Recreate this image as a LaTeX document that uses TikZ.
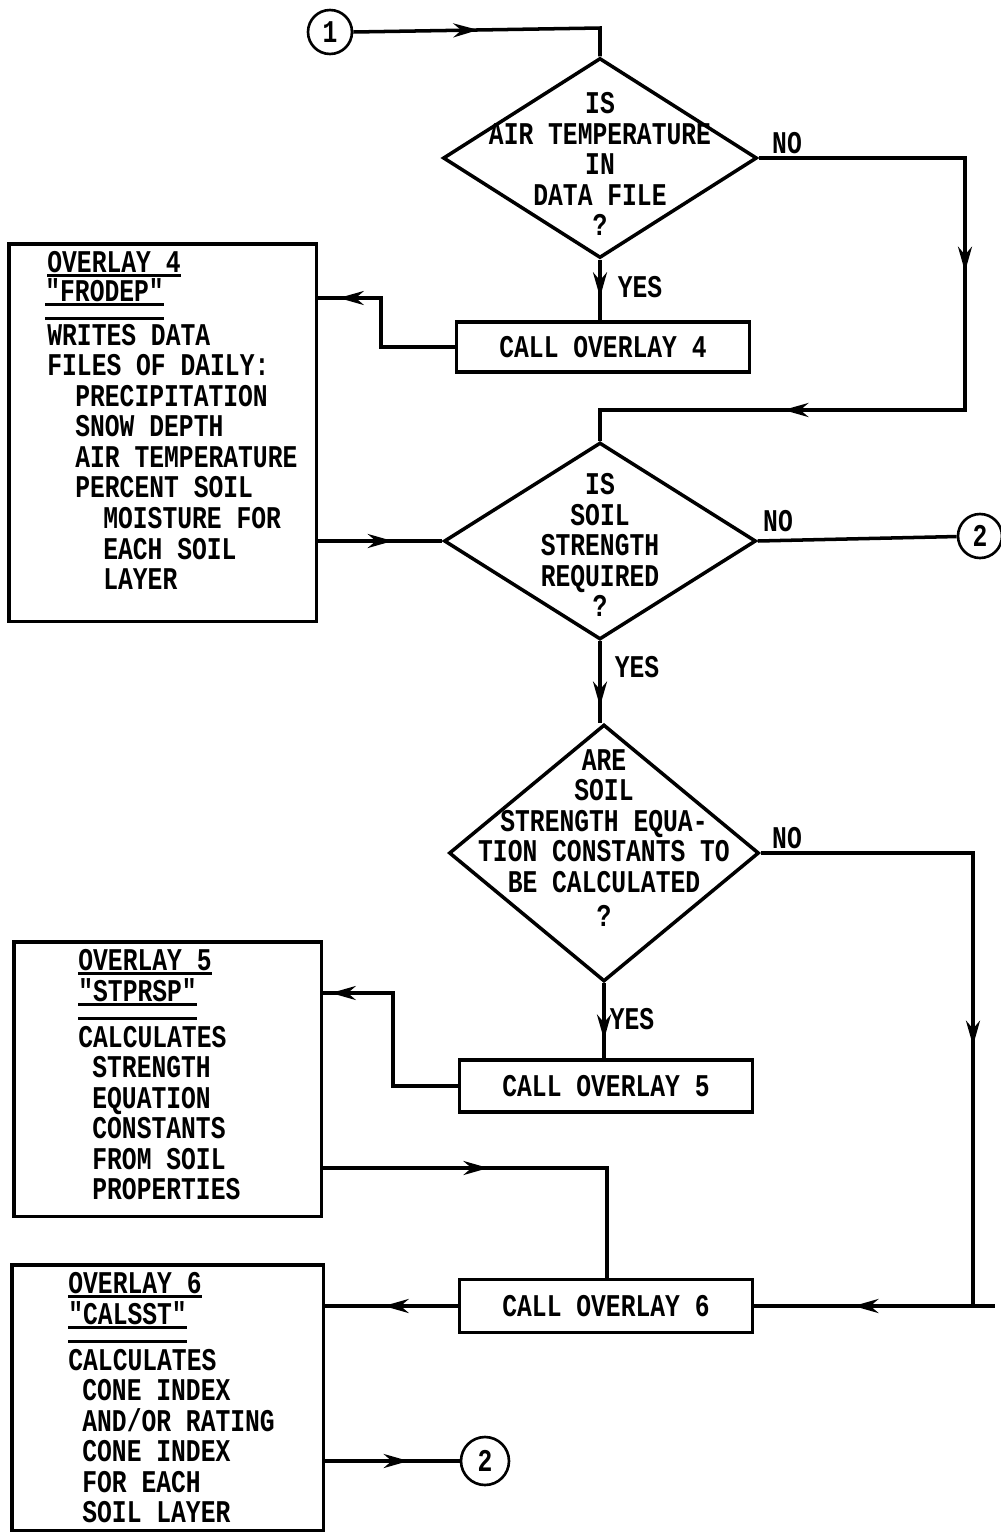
\documentclass[tikz,border=0pt]{standalone}
\usepackage{fontspec}
\newfontfamily\typer{Liberation Mono}[FakeStretch=0.78]
\newcommand\tcfont{\typer\bfseries\fontsize{18pt}{17.4pt}\selectfont}
\usepackage{tikz}
\usetikzlibrary{shapes.geometric,arrows.meta,decorations.markings}

\begin{document}
\begin{tikzpicture}[x=0.02cm,y=-0.02cm,
    flowtip/.tip={Stealth[length=5mm,width=2.8mm]},
    flow/.style={line width=2pt},
    rule/.style={line width=1.5pt},
    arr/.style={postaction={decorate},decoration={markings,mark=at position #1 with {\arrow{flowtip}}}},
    arrtwo/.style 2 args={postaction={decorate},decoration={markings,
        mark=at position #1 with {\arrow{flowtip}},mark=at position #2 with {\arrow{flowtip}}}},
    dia/.style={diamond,draw,line width=2pt,inner sep=0pt},
    dlab/.style={align=center,font=\tcfont,inner sep=0pt},
    callbox/.style={rectangle,draw,line width=2pt,minimum width=5.86cm,minimum height=1cm,font=\tcfont},
    panel/.style={rectangle,draw,line width=2pt,anchor=north west},
    head/.style={font=\tcfont,inner sep=0pt,anchor=west},
    body/.style={font=\tcfont,inner sep=0pt,align=left,anchor=north west},
    lab/.style={font=\tcfont,inner sep=0pt},
    conn/.style={circle,draw,line width=1.5pt,inner sep=0pt,font=\tcfont}]

\useasboundingbox (0,0) rectangle (1001,1532);

% Connecteurs
\node[conn,minimum size=0.88cm] (c1) at (330,32) {1};
\node[conn,minimum size=0.88cm] (c2a) at (980,536) {2};
\node[conn,minimum size=0.96cm] (c2b) at (485,1461) {2};

% Decisions
\node[dia,minimum width=6.28cm,minimum height=4cm] (d1) at (600,158) {};
\node[dlab] (d1t) at (600,164) {IS\\AIR TEMPERATURE\\IN\\DATA FILE\\?};
\node[dia,minimum width=6.24cm,minimum height=3.94cm] (d2) at (600,541) {};
\node[dlab] (d2t) at (600,545) {IS\\SOIL\\STRENGTH\\REQUIRED\\?};
\node[dia,minimum width=6.2cm,minimum height=5.14cm] (d3) at (604,853) {};
\node[dlab] (d3t) at (604,838) {ARE\\SOIL\\STRENGTH EQUA-\\TION CONSTANTS TO\\BE CALCULATED\\[2pt]?};

% Appels
\node[callbox] (cov4) at (603,347) {CALL OVERLAY 4};
\node[callbox,minimum height=1.04cm] (cov5) at (606,1086) {CALL OVERLAY 5};
\node[callbox,minimum height=1.06cm] (cov6) at (606,1306) {CALL OVERLAY 6};

% Overlays
\node[panel,minimum width=6.16cm,minimum height=7.56cm] (ov4) at (7,242) {};
\node[head] (ov4a) at (47,262) {OVERLAY 4};
\node[head] (ov4b) at (45,290) {"FRODEP"};
\node[body] (ov4c) at (47,323.5) {WRITES DATA\\FILES OF DAILY:\\
  \hspace*{0.56cm}PRECIPITATION\\\hspace*{0.56cm}SNOW DEPTH\\
  \hspace*{0.56cm}AIR TEMPERATURE\\\hspace*{0.56cm}PERCENT SOIL\\
  \hspace*{1.12cm}MOISTURE FOR\\\hspace*{1.12cm}EACH SOIL\\\hspace*{1.12cm}LAYER};

\node[panel,minimum width=6.16cm,minimum height=5.5cm] (ov5) at (12,940) {};
\node[head] (ov5a) at (78,960) {OVERLAY 5};
\node[head] (ov5b) at (78,990) {"STPRSP"};
\node[body] (ov5c) at (78,1025.5) {CALCULATES\\\hspace*{0.28cm}STRENGTH\\
  \hspace*{0.28cm}EQUATION\\\hspace*{0.28cm}CONSTANTS\\
  \hspace*{0.28cm}FROM SOIL\\\hspace*{0.28cm}PROPERTIES};

\node[panel,minimum width=6.24cm,minimum height=5.32cm] (ov6) at (10,1263) {};
\node[head] (ov6a) at (68,1283) {OVERLAY 6};
\node[head] (ov6b) at (68,1313) {"CALSST"};
\node[body] (ov6c) at (68,1348.5) {CALCULATES\\\hspace*{0.28cm}CONE INDEX\\
  \hspace*{0.28cm}AND/OR RATING\\\hspace*{0.28cm}CONE INDEX\\
  \hspace*{0.28cm}FOR EACH\\\hspace*{0.28cm}SOIL LAYER};

% Soulignements
\foreach \n in {ov4a,ov4b,ov5a,ov5b,ov6a,ov6b}
  \draw[rule] ([yshift=-0.05cm]\n.south west) -- ([yshift=-0.05cm]\n.south east);
\foreach \n in {ov4b,ov5b,ov6b}
  \draw[rule] ([yshift=-0.33cm]\n.south west) -- ([yshift=-0.33cm]\n.south east);

% Etiquettes
\node[lab] (no1) at (787,143) {NO};
\node[lab] (yes1) at (640,287) {YES};
\node[lab] (no2) at (778,521) {NO};
\node[lab] (yes2) at (637,667) {YES};
\node[lab] (no3) at (787,838) {NO};
\node[lab] (yes3) at (632,1019) {YES};

% Liaisons
\coordinate (j1) at (600,28);
\coordinate (r1) at (965,158);
\coordinate (r2) at (965,410);
\coordinate (j2) at (600,410);
\coordinate (k1) at (381,298);
\coordinate (r3) at (973,853);
\coordinate (r4) at (973,1306);
\coordinate (r5) at (995,1306);
\coordinate (k2) at (393,993);
\coordinate (k3) at (607,1168);

\draw[flow,arr=2.5cm] (c1.east) -- (j1) -- (d1.north);
\draw[flow,arr=0.62] (d1.south) -- (d1.south |- cov4.north);
\draw[flow,arrtwo={6.4cm}{12.8cm}] (d1.east) -- (r1) -- (r2) -- (j2) -- (d2.north);
\draw[flow,arr=3.3cm] (cov4.west) -| (k1) -- (k1 -| ov4.east);
\draw[flow,arr=0.6] (d2.west -| ov4.east) -- (d2.west);
\draw[flow] (d2.east) -- (c2a);
\draw[flow,arr=0.8] (d2.south) -- (d2.south |- d3.north);
\draw[flow,arrtwo={8.1cm}{15.7cm}] (d3.east) -- (r3) -- (r4) -- (cov6.east);
\draw[flow] (r4) -- (r5);
\draw[flow,arr=0.75] (d3.south) -- (d3.south |- cov5.north);
\draw[flow,arr=4.4cm] (cov5.west) -| (k2) -- (k2 -| ov5.east);
\draw[flow,arr=3.3cm] (k3 -| ov5.east) -- (k3) -- (k3 |- cov6.north);
\draw[flow,arr=0.56] (cov6.west) -- (cov6.west -| ov6.east);
\draw[flow,arr=0.62] (c2b.west -| ov6.east) -- (c2b.west);

\end{tikzpicture}
\end{document}
